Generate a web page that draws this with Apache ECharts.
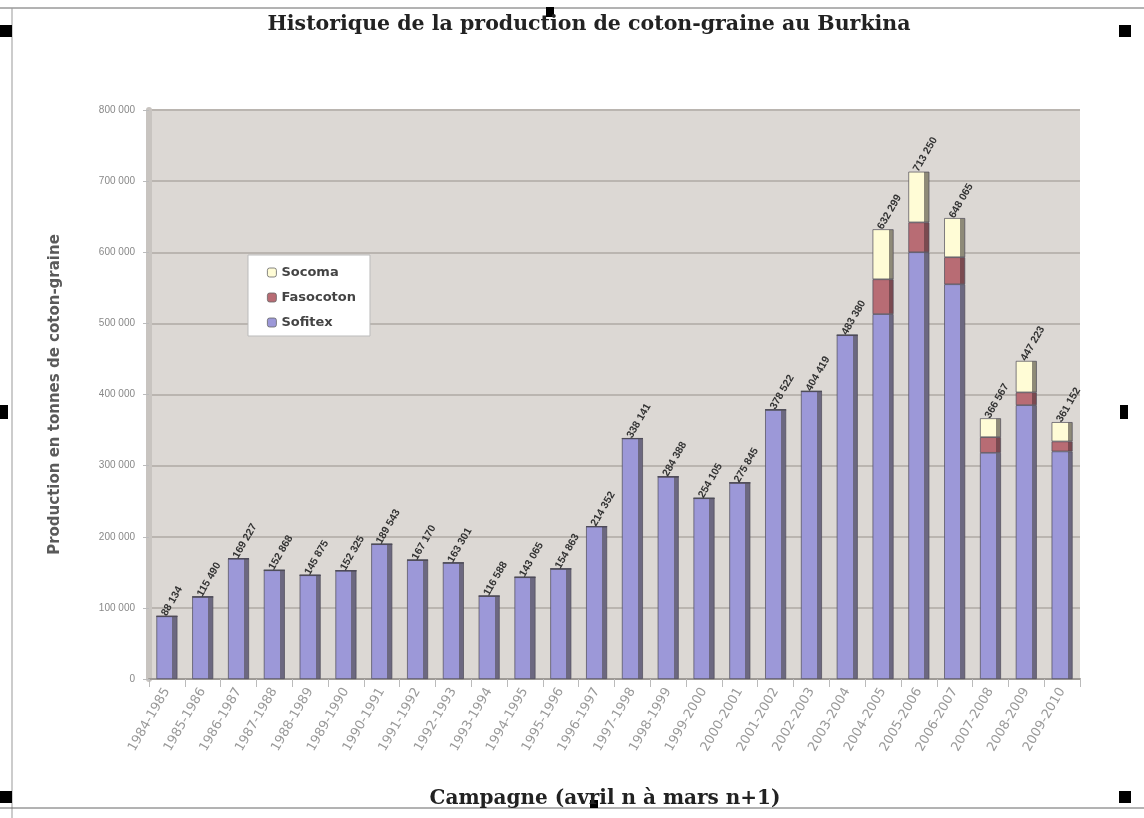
<!DOCTYPE html>
<html><head><meta charset="utf-8">
<script src="https://cdn.jsdelivr.net/npm/echarts@6/dist/echarts.min.js"></script>
<style>html,body{margin:0;padding:0;background:#fff}#c{width:1144px;height:818px}</style>
</head><body><div id="c"></div>
<script>
const categories = ["1984-1985","1985-1986","1986-1987","1987-1988","1988-1989","1989-1990","1990-1991","1991-1992","1992-1993","1993-1994","1994-1995","1995-1996","1996-1997","1997-1998","1998-1999","1999-2000","2000-2001","2001-2002","2002-2003","2003-2004","2004-2005","2005-2006","2006-2007","2007-2008","2008-2009","2009-2010"];
const totals = [88134,115490,169227,152868,145875,152325,189543,167170,163301,116588,143065,154863,214352,338141,284388,254105,275845,378522,404419,483380,632299,713250,648065,366567,447223,361152];
const fasocoton = [0,0,0,0,0,0,0,0,0,0,0,0,0,0,0,0,0,0,0,0,49000,42000,38000,22000,18000,14000];
const socoma = [0,0,0,0,0,0,0,0,0,0,0,0,0,0,0,0,0,0,0,0,70299,71250,55065,26567,44223,27152];
const sofitex = [88134,115490,169227,152868,145875,152325,189543,167170,163301,116588,143065,154863,214352,338141,284388,254105,275845,378522,404419,483380,513000,600000,555000,318000,385000,320000];
const yTicks = [0,100000,200000,300000,400000,500000,600000,700000,800000];

const fmt = v => String(v).replace(/\B(?=(\d{3})+(?!\d))/g, ' ');
const chart = echarts.init(document.getElementById('c'));
const face = (c, side) => ({
  type: 'linear', x: 0, y: 0, x2: 1, y2: 0,
  colorStops: [{offset: 0, color: c}, {offset: 0.76, color: c}, {offset: 0.76, color: side}, {offset: 1, color: side}]
});
const barStyle = (c, side) => ({color: face(c, side), borderColor: '#4e4a58', borderWidth: 0.7});
chart.setOption({
  animation: false,
  backgroundColor: '#ffffff',
  title: [
    {text: 'Historique de la production de coton-graine au Burkina', left: 584, textAlign: 'center', top: 9,
     textStyle: {fontFamily: 'DejaVu Serif', fontWeight: 'bold', fontSize: 20.5, color: '#222'}},
    {text: 'Campagne (avril n à mars n+1)', left: 600, textAlign: 'center', top: 784,
     textStyle: {fontFamily: 'DejaVu Serif', fontWeight: 'bold', fontSize: 20, color: '#222'}}
  ],
  legend: {
    orient: 'vertical', left: 248, top: 255,
    data: [
      {name: 'Socoma', itemStyle: {color: '#fffcd6'}},
      {name: 'Fasocoton', itemStyle: {color: '#b86c74'}},
      {name: 'Sofitex', itemStyle: {color: '#9c98d8'}}
    ],
    backgroundColor: '#ffffff', borderColor: '#bbbbbb', borderWidth: 1,
    padding: [11, 14, 7, 19], itemWidth: 9, itemHeight: 9, itemGap: 12,
    textStyle: {fontFamily: 'DejaVu Sans', fontWeight: 'bold', fontSize: 13, color: '#444'},
    itemStyle: {borderColor: '#666', borderWidth: 0.8}
  },
  grid: {left: 149, right: 64, top: 110, bottom: 139, show: true, backgroundColor: '#dcd8d4', borderWidth: 0},
  xAxis: {
    type: 'category', data: categories,
    axisLine: {lineStyle: {color: '#9e9a96', width: 2}},
    axisTick: {show: true, lineStyle: {color: '#bbb'}, length: 8},
    axisLabel: {rotate: 60, interval: 0, fontFamily: 'DejaVu Sans', fontSize: 13, color: '#999', margin: 10}
  },
  yAxis: {
    type: 'value', min: 0, max: 800000, interval: 100000,
    name: 'Production en tonnes de coton-graine', nameLocation: 'middle', nameGap: 86,
    nameTextStyle: {fontFamily: 'DejaVu Sans', fontWeight: 'bold', fontSize: 15, color: '#5a5a5a'},
    axisLine: {show: true, lineStyle: {color: '#c8c4c0', width: 6}},
    axisTick: {show: true, length: 6, lineStyle: {color: '#bbb'}},
    axisLabel: {formatter: v => fmt(v), fontFamily: 'Liberation Sans', fontSize: 10, color: '#888', margin: 14},
    splitLine: {lineStyle: {color: '#bab5b0', width: 2}}
  },
  series: [
    {name: 'Sofitex', type: 'bar', stack: 't', data: sofitex, barWidth: 21, itemStyle: barStyle('#9c98d8', '#6c6880')},
    {name: 'Fasocoton', type: 'bar', stack: 't', data: fasocoton, barWidth: 21, itemStyle: barStyle('#b86c74', '#7a4a50')},
    {name: 'Socoma', type: 'bar', stack: 't', data: socoma, barWidth: 21, itemStyle: barStyle('#fffcd6', '#8e8a78'),
     label: {show: true, position: 'top', rotate: 60, align: 'left', verticalAlign: 'middle', distance: 6, offset: [-6, 0],
       formatter: p => fmt(totals[p.dataIndex]),
       fontFamily: 'Liberation Sans', fontWeight: 'bold', fontSize: 10.5, color: '#333'}}
  ],
  graphic: [
    {type: 'line', shape: {x1: 0, y1: 8, x2: 1144, y2: 8}, style: {stroke: '#666', lineWidth: 1}},
    {type: 'line', shape: {x1: 12, y1: 8, x2: 12, y2: 818}, style: {stroke: '#999', lineWidth: 1}},
    {type: 'line', shape: {x1: 0, y1: 808, x2: 1144, y2: 808}, style: {stroke: '#666', lineWidth: 1}},
    {type: 'rect', shape: {x: 0, y: 25, width: 12, height: 12}, style: {fill: '#000'}},
    {type: 'rect', shape: {x: 1119, y: 25, width: 12, height: 12}, style: {fill: '#000'}},
    {type: 'rect', shape: {x: 546, y: 7, width: 8, height: 10}, style: {fill: '#000'}},
    {type: 'rect', shape: {x: 0, y: 405, width: 8, height: 14}, style: {fill: '#000'}},
    {type: 'rect', shape: {x: 1120, y: 405, width: 8, height: 14}, style: {fill: '#000'}},
    {type: 'rect', shape: {x: 0, y: 791, width: 12, height: 12}, style: {fill: '#000'}},
    {type: 'rect', shape: {x: 1119, y: 791, width: 12, height: 12}, style: {fill: '#000'}},
    {type: 'rect', shape: {x: 590, y: 800, width: 8, height: 8}, style: {fill: '#000'}}
  ]
});
</script></body></html>
